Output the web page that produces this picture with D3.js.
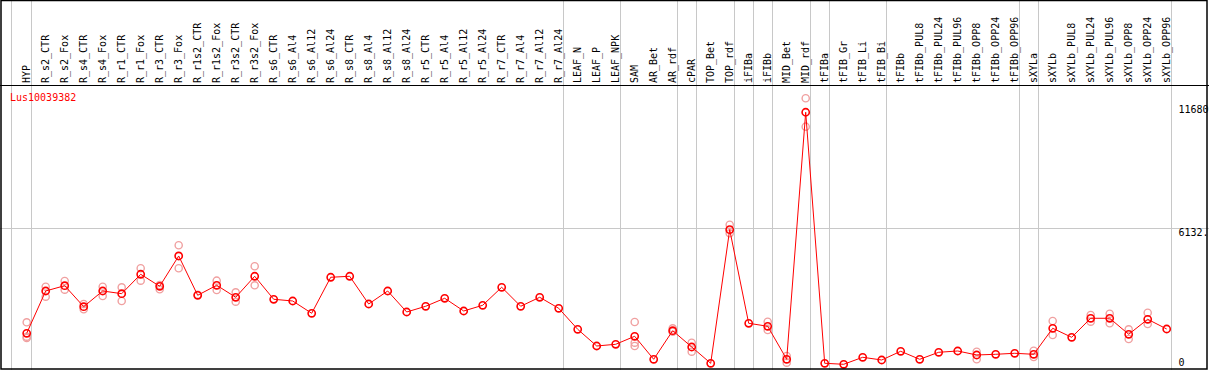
<!DOCTYPE html>
<html>
<head>
<meta charset="utf-8">
<script src="https://cdn.jsdelivr.net/npm/d3@7"></script>
<style>
  html, body { margin: 0; padding: 0; background: #fff; }
  svg { display: block; }
  text { font-family: "DejaVu Sans Mono", "Liberation Mono", monospace; font-size: 10px; }
</style>
</head>
<body>
<svg id="chart" width="1209" height="370"></svg>
<script>
const categories = ["HYP","R_s2_CTR","R_s2_Fox","R_s4_CTR","R_s4_Fox","R_r1_CTR","R_r1_Fox","R_r3_CTR","R_r3_Fox",
  "R_r1s2_CTR","R_r1s2_Fox","R_r3s2_CTR","R_r3s2_Fox","R_s6_CTR","R_s6_Al4","R_s6_Al12","R_s6_Al24",
  "R_s8_CTR","R_s8_Al4","R_s8_Al12","R_s8_Al24","R_r5_CTR","R_r5_Al4","R_r5_Al12","R_r5_Al24",
  "R_r7_CTR","R_r7_Al4","R_r7_Al12","R_r7_Al24","LEAF_N","LEAF_P","LEAF_NPK","SAM","AR_Bet","AR_rdf",
  "cPAR","TOP_Bet","TOP_rdf","iFIBa","iFIBb","MID_Bet","MID_rdf","tFIBa","tFIB_Gr","tFIB_Li","tFIB_Bi",
  "tFIBb","tFIBb_PUL8","tFIBb_PUL24","tFIBb_PUL96","tFIBb_OPP8","tFIBb_OPP24","tFIBb_OPP96",
  "sXYLa","sXYLb","sXYLb_PUL8","sXYLb_PUL24","sXYLb_PUL96","sXYLb_OPP8","sXYLb_OPP24","sXYLb_OPP96"];

const meanValues = [1409,3312,3551,2606,3312,3191,4064,3524,4887,
  3119,3569,3029,3974,2939,2862,2309,3929,
  3974,2727,3312,2367,2624,2984,2412,2669,
  3479,2624,3029,2534,1589,837,914,1274,239,1526,
  792,59,6071,1859,1724,239,11354,59,14,329,207,
  599,239,554,612,432,464,509,
  464,1634,1229,2084,2084,1364,2039,1602];

const replicateValues = [
  [1904,1256,1200],[3506,3056],[3762,3371],[2727,2489],[3506,3087],[3479,2862],[4334,3776],[3582,3389],[5369,4334],
  [3146],[3776,3357],[3254,2831],[4424,3569],[],[],[],[],
  [],[],[],[],[],[],[],[],
  [],[],[],[],[],[],[],[1917,986,837],[],[1634,1481],
  [986,581],[],[6295,5908],[],[1930,1557],[387,86],[11983,10705],[],[],[],[],
  [],[],[],[],[581,239],[],[],
  [626,342],[1962,1332],[],[2232,1931],[2291,1859],[1589,1152],[2336,1827],[]];

// categories after which a group separator is drawn
const groupEnds = ["HYP","R_r7_Al24","LEAF_NPK","AR_rdf","cPAR","TOP_rdf","iFIBa","iFIBb","MID_rdf",
  "tFIBa","tFIB_Bi","tFIBb_OPP96","sXYLa","sXYLb_OPP96"];

const yTickValues = [0, 6132, 11680];
const yTickLabels = ["0", "6132.", "11680"];
const geneName = "Lus10039382";

const W = 1209, H = 370;
const svg = d3.select("#chart");

const x = d3.scalePoint().domain(categories).range([26.7, 26.7 + 19 * (categories.length - 1)]);
const y = d3.scaleLinear().domain([0, 11680]).range([364.6, 105]);

// vertical group separators
const seps = [x(categories[0]) - 16].concat(groupEnds.map(c => x(c) + 4));
svg.append("g").selectAll("line").data(seps).join("line")
  .attr("x1", d => Math.round(d) + 0.5).attr("x2", d => Math.round(d) + 0.5)
  .attr("y1", 0).attr("y2", H)
  .attr("stroke", "#c8c8c8").attr("stroke-width", 1);

// horizontal mid gridline
svg.append("line")
  .attr("x1", 0).attr("x2", W)
  .attr("y1", Math.round(y(6132)) + 0.5).attr("y2", Math.round(y(6132)) + 0.5)
  .attr("stroke", "#c8c8c8").attr("stroke-width", 1);

// column labels (rotated)
svg.append("g").selectAll("text").data(categories).join("text")
  .attr("transform", d => `translate(${x(d) + 3},83) rotate(-90)`)
  .attr("text-anchor", "start")
  .attr("fill", "#000")
  .text(d => d);

// right axis labels
svg.append("g").selectAll("text").data(yTickValues).join("text")
  .attr("x", 1178.5)
  .attr("y", (d, i) => d === 0 ? y(d) + 1 : y(d) + 7.5)
  .attr("fill", "#000")
  .text((d, i) => yTickLabels[i]);

// gene name
svg.append("text").attr("x", 10).attr("y", 101).attr("fill", "#ff0000").text(geneName);

// replicate circles
const reps = [];
categories.forEach((c, i) => replicateValues[i].forEach(v => reps.push({c, v})));
svg.append("g").selectAll("circle").data(reps).join("circle")
  .attr("cx", d => x(d.c)).attr("cy", d => y(d.v)).attr("r", 3.6)
  .attr("fill", "none").attr("stroke", "#f0a0a0").attr("stroke-width", 1.4);

// mean line
const line = d3.line().x((d, i) => x(categories[i])).y(d => y(d));
svg.append("path").datum(meanValues).attr("d", line)
  .attr("fill", "none").attr("stroke", "#ff0000").attr("stroke-width", 1);

// mean circles
svg.append("g").selectAll("circle").data(meanValues).join("circle")
  .attr("cx", (d, i) => x(categories[i])).attr("cy", d => y(d)).attr("r", 3.6)
  .attr("fill", "none").attr("stroke", "#ff0000").attr("stroke-width", 1.6);

// borders
svg.append("line").attr("x1", 0).attr("x2", W).attr("y1", 85.5).attr("y2", 85.5).attr("stroke", "#000").attr("stroke-width", 1);
svg.append("rect").attr("x", 1).attr("y", 0.5).attr("width", 1206).attr("height", 368.5)
  .attr("fill", "none").attr("stroke", "#000").attr("stroke-width", 1.5);
</script>
</body>
</html>
